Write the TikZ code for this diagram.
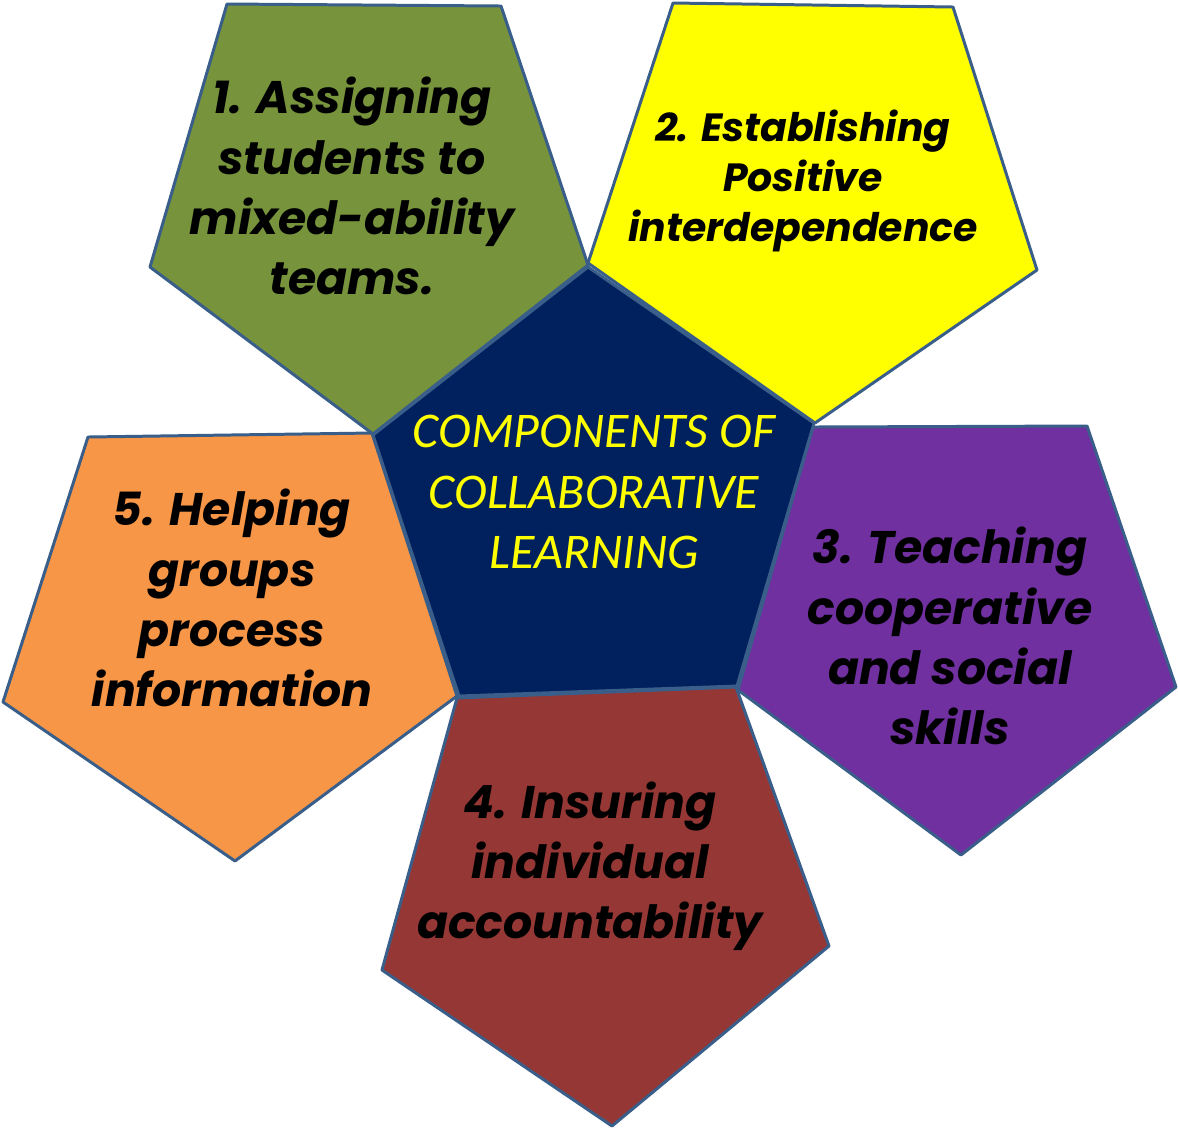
\documentclass[tikz,border=0pt]{standalone}
\usepackage{fontspec}
\setmainfont{Poppins}
\newfontfamily\calibri{Carlito}
\usepackage{xcolor}
\definecolor{edge}{RGB}{58,94,138}
\definecolor{green1}{RGB}{119,147,60}
\definecolor{yellow2}{RGB}{255,255,0}
\definecolor{purple3}{RGB}{112,48,160}
\definecolor{red4}{RGB}{149,55,53}
\definecolor{orange5}{RGB}{247,150,70}
\definecolor{navy}{RGB}{0,32,94}

\begin{document}
\begin{tikzpicture}[x=0.01cm,y=-0.01cm,
  petal/.style={draw=edge, line width=0.85pt, line join=round},
  Label/.style={align=center, text=black, font=\fontsize{13}{17.1}\selectfont\bfseries\itshape}]
\useasboundingbox (0,0) rectangle (1178,1129);
% outer petals
\filldraw[petal, fill=green1]  (227,4) -- (501,6) -- (588,265) -- (373,434) -- (150,267) -- cycle;
\filldraw[petal, fill=yellow2] (673,3) -- (953,7) -- (1037,270) -- (815,423) -- (588,263) -- cycle;
\filldraw[petal, fill=purple3] (813,427) -- (1087,426) -- (1176,687) -- (961,855) -- (738,690) -- cycle;
\filldraw[petal, fill=red4]    (457,698) -- (736,687) -- (829,946) -- (612,1126) -- (382,970) -- cycle;
\filldraw[petal, fill=orange5] (88,437) -- (372,433) -- (457,696) -- (235,861) -- (3,702) -- cycle;
% centre
\filldraw[petal, fill=navy] (588,267) -- (814,423) -- (737,686) -- (459,696) -- (373,435) -- cycle;

\node[Label] (One)   at (352,186) {1. Assigning\\students to\\mixed-ability\\teams.};
\node[Label, font=\fontsize{11.2}{14.2}\selectfont\bfseries\itshape] (Two) at (803,181) {2. Establishing\\Positive\\interdependence};
\node[Label] (Three) at (950,636) {3. Teaching\\cooperative\\and social\\skills};
\node[Label] (Four)  at (590,866) {4. Insuring\\individual\\accountability};
\node[Label] (Five)  at (232,598) {5. Helping\\groups\\process\\information};
\node[align=center, text=yellow2, font=\calibri\fontsize{14.2}{17.3}\selectfont\itshape] (Core) at (594,492) {COMPONENTS OF\\COLLABORATIVE\\LEARNING};
\end{tikzpicture}
\end{document}
